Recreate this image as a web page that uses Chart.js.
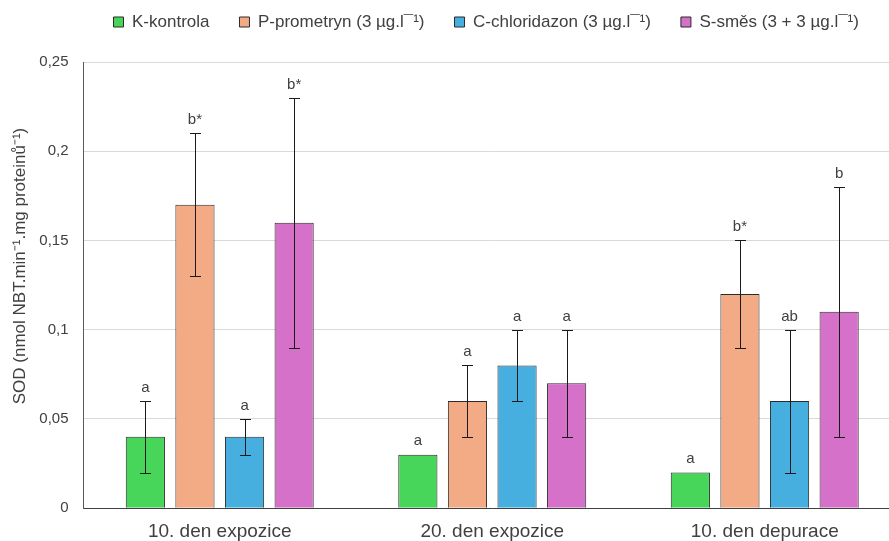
<!DOCTYPE html>
<html>
<head>
<meta charset="utf-8">
<script src="https://cdn.jsdelivr.net/npm/chart.js@4.4.1/dist/chart.umd.min.js"></script>
<style>
html,body{margin:0;padding:0;background:#fff;overflow:hidden;}
#wrap{position:relative;width:905px;height:555px;}
</style>
</head>
<body>
<div id="wrap"><canvas id="c"></canvas></div>
<script>
const categories = ['10. den expozice', '20. den expozice', '10. den depurace'];
const seriesNames = ['K-kontrola', 'P-prometryn (3 µg.l¯¹)', 'C-chloridazon (3 µg.l¯¹)', 'S-směs (3 + 3 µg.l¯¹)'];
const kontrola = [0.04, 0.03, 0.02];
const prometryn = [0.17, 0.06, 0.12];
const chloridazon = [0.04, 0.08, 0.06];
const smes = [0.16, 0.07, 0.11];
const errKontrola = [0.02, null, null];
const errPrometryn = [0.04, 0.02, 0.03];
const errChloridazon = [0.01, 0.02, 0.04];
const errSmes = [0.07, 0.03, 0.07];
const lettersKontrola = ['a', 'a', 'a'];
const lettersPrometryn = ['b*', 'a', 'b*'];
const lettersChloridazon = ['a', 'a', 'ab'];
const lettersSmes = ['b*', 'a', 'b'];
const yTicks = [0, 0.05, 0.1, 0.15, 0.2, 0.25];
const yTitle = 'SOD (nmol NBT.min⁻¹.mg proteinů⁻¹)';

const colors = ['#48D65A', '#F2AB84', '#46AFDF', '#D671C9'];
const values = [kontrola, prometryn, chloridazon, smes];
const errors = [errKontrola, errPrometryn, errChloridazon, errSmes];
const letters = [lettersKontrola, lettersPrometryn, lettersChloridazon, lettersSmes];

const regular = "'Liberation Sans', Arial, sans-serif";

const errorBarPlugin = {
  id: 'errorBars',
  afterDatasetsDraw(chart) {
    const ctx = chart.ctx;
    const y = chart.scales.y;
    ctx.save();
    chart.data.datasets.forEach((ds, i) => {
      const meta = chart.getDatasetMeta(i);
      meta.data.forEach((bar, j) => {
        const v = values[i][j];
        const e = errors[i][j];
        let topPix = y.getPixelForValue(v);
        const cx = Math.round(bar.x) + 0.5;
        if (e != null) {
          const hi = Math.round(y.getPixelForValue(v + e)) + 0.5;
          const lo = Math.round(y.getPixelForValue(v - e)) + 0.5;
          ctx.strokeStyle = '#1a1a1a';
          ctx.lineWidth = 1;
          ctx.beginPath();
          ctx.moveTo(cx, hi);
          ctx.lineTo(cx, lo);
          ctx.moveTo(cx - 5.5, hi);
          ctx.lineTo(cx + 5.5, hi);
          ctx.moveTo(cx - 5.5, lo);
          ctx.lineTo(cx + 5.5, lo);
          ctx.stroke();
          topPix = hi;
        }
        ctx.fillStyle = '#404040';
        ctx.font = '15px ' + regular;
        ctx.textAlign = 'center';
        ctx.textBaseline = 'alphabetic';
        ctx.fillText(letters[i][j], bar.x, topPix - 10);
      });
    });
    ctx.restore();
  }
};

const yTitlePlugin = {
  id: 'yTitle',
  afterDraw(chart) {
    const ctx = chart.ctx;
    ctx.save();
    ctx.translate(20, 266);
    ctx.rotate(-Math.PI / 2);
    ctx.fillStyle = '#404040';
    ctx.font = '17px ' + regular;
    ctx.textAlign = 'center';
    ctx.textBaseline = 'middle';
    ctx.fillText(yTitle, 0, 0);
    ctx.restore();
  }
};

new Chart(document.getElementById('c'), {
  type: 'bar',
  data: {
    labels: categories,
    datasets: values.map((vals, i) => ({
      label: seriesNames[i],
      data: vals,
      backgroundColor: colors[i],
      borderColor: '#2b2b2b',
      borderWidth: 1,
      barPercentage: 0.79,
      categoryPercentage: 0.728
    }))
  },
  options: {
    responsive: true,
    maintainAspectRatio: false,
    animation: false,
    layout: { padding: { left: 0, right: 4, top: -16.5, bottom: 0 } },
    plugins: {
      legend: {
        position: 'top',
        align: 'start',
        fullSize: false,
        labels: {
          boxWidth: 10,
          boxHeight: 10,
          padding: 30,
          color: '#404040',
          font: { family: regular, size: 17 }
        }
      },
      subtitle: {
        display: true,
        text: '',
        position: 'top',
        fullSize: false,
        weight: 500,
        font: { size: 1 },
        padding: { top: 0, bottom: 20.3 }
      },
      tooltip: { enabled: false }
    },
    scales: {
      x: {
        grid: { display: false, drawTicks: false },
        border: { color: '#404040', width: 1 },
        ticks: {
          color: '#404040',
          font: { family: regular, size: 19 },
          padding: 12
        }
      },
      y: {
        min: 0,
        max: 0.25,
        afterFit(scale) { scale.width = 83.5; },
        afterBuildTicks(scale) { scale.ticks = yTicks.map(v => ({ value: v })); },
        grid: { color: '#d9d9d9', drawTicks: false },
        border: { color: '#595959', width: 1 },
        ticks: {
          color: '#404040',
          font: { family: regular, size: 15 },
          padding: 15,
          callback: v => String(v).replace('.', ',')
        }
      }
    }
  },
  plugins: [errorBarPlugin, yTitlePlugin]
});
</script>
</body>
</html>
